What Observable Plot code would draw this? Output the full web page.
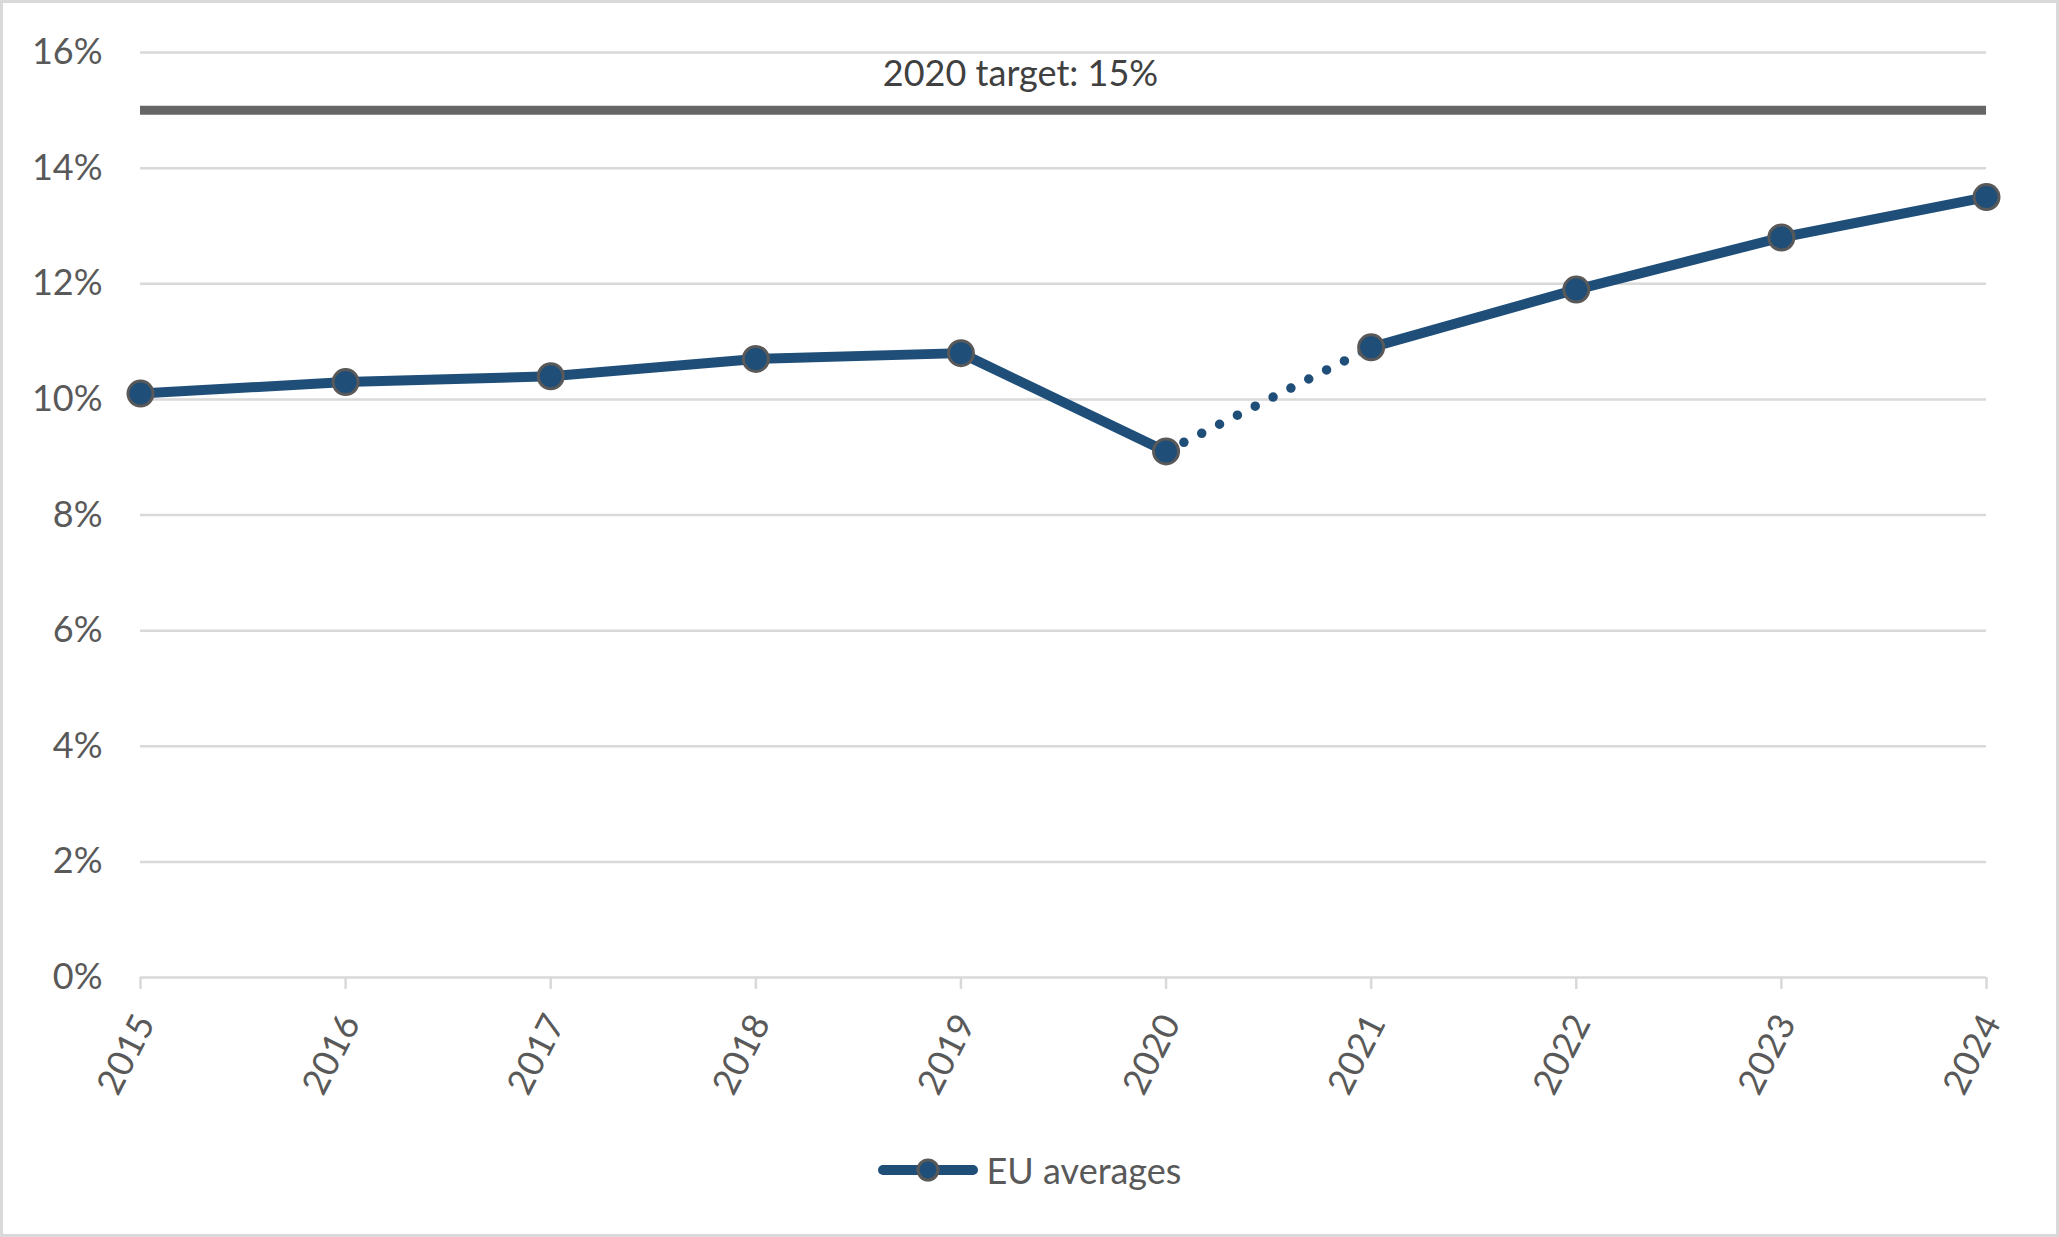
<!DOCTYPE html>
<html>
<head>
<meta charset="utf-8">
<script src="https://cdn.jsdelivr.net/npm/d3@7"></script>
<script src="https://cdn.jsdelivr.net/npm/@observablehq/plot@0.6"></script>
<style>
  html, body { margin: 0; padding: 0; background: #fff; overflow: hidden; }
  #wrap { position: relative; width: 2059px; height: 1237px; font-family: Lato, "Open Sans", sans-serif; }
  #border { position: absolute; left: 0; top: 0; width: 2059px; height: 1237px; box-sizing: border-box; border: 3px solid #d9d9d9; pointer-events: none; }
  #chart { position: absolute; left: 0; top: 0; }
  #legend { position: absolute; left: 0; top: 1150px; width: 2059px; height: 40px; display: flex; justify-content: center; align-items: center; gap: 9px; }
  #legend span { font-size: 36px; line-height: 40px; color: #595959; font-family: Lato, sans-serif; }
</style>
</head>
<body>
<div id="wrap">
  <div id="chart"></div>
  <div id="legend"></div>
  <div id="border"></div>
</div>
<script>
// ---- data ----
const years = [2015, 2016, 2017, 2018, 2019, 2020, 2021, 2022, 2023, 2024];
const euAverages = [10.1, 10.3, 10.4, 10.7, 10.8, 9.1, 10.9, 11.9, 12.8, 13.5];
const yTicks = [0, 2, 4, 6, 8, 10, 12, 14, 16];
const target = 15;
const targetLabel = "2020 target: 15%";
const seriesName = "EU averages";
const dottedFrom = 2020; // segment 2020 -> 2021 drawn dotted

// ---- styles ----
const blue = "#1F4E79";
const markerStroke = "#595959";
const grid = "#d9d9d9";
const textColor = "#595959";

const rows = years.map((year, i) => ({year, value: euAverages[i]}));
const firstPart = rows.filter(d => d.year <= dottedFrom);
const lastPart = rows.filter(d => d.year > dottedFrom);
const dottedPart = rows.filter(d => d.year === dottedFrom || d.year === dottedFrom + 1);

const chart = Plot.plot({
  width: 2059,
  height: 1110,
  marginLeft: 140,
  marginRight: 73,
  marginTop: 52,
  marginBottom: 133,
  style: {fontFamily: "Lato, sans-serif", background: "transparent"},
  x: {type: "linear", domain: [years[0], years[years.length - 1]], axis: null},
  y: {domain: [0, 16], axis: null},
  marks: [
    Plot.ruleY(yTicks, {stroke: grid, strokeWidth: 2.5}),
    Plot.axisX({ticks: years, tickSize: 12, tickFormat: () => "", stroke: grid, strokeWidth: 2.5, label: null}),
    Plot.text(years, {x: d => d, frameAnchor: "bottom", text: d => String(d), rotate: -63, textAnchor: "end", lineAnchor: "middle", dx: 5, dy: 40, fontSize: 36, fill: textColor}),
    Plot.text(yTicks, {y: d => d, frameAnchor: "left", text: d => d + "%", textAnchor: "end", lineAnchor: "middle", dx: -38, fontSize: 36, fill: textColor}),
    Plot.ruleY([target], {stroke: "#666666", strokeWidth: 9}),
    Plot.text([target], {y: d => d, text: () => targetLabel, textAnchor: "middle", lineAnchor: "middle", dx: -43, dy: -36, fontSize: 36, fill: "#404040"}),
    Plot.line(firstPart, {x: "year", y: "value", stroke: blue, strokeWidth: 10, strokeLinejoin: "round", strokeLinecap: "round"}),
    Plot.line(lastPart, {x: "year", y: "value", stroke: blue, strokeWidth: 10, strokeLinejoin: "round", strokeLinecap: "round"}),
    Plot.line(dottedPart, {x: "year", y: "value", stroke: blue, strokeWidth: 9.5, strokeLinecap: "round", strokeDasharray: "0 20"}),
    Plot.dot(rows, {x: "year", y: "value", r: 12.5, fill: blue, stroke: markerStroke, strokeWidth: 3})
  ]
});
document.getElementById("chart").appendChild(chart);

// ---- legend ----
const legend = document.getElementById("legend");
const sw = d3.create("svg").attr("width", 100).attr("height", 40);
sw.append("line").attr("x1", 5).attr("x2", 95).attr("y1", 20).attr("y2", 20)
  .attr("stroke", blue).attr("stroke-width", 10).attr("stroke-linecap", "round");
sw.append("circle").attr("cx", 50).attr("cy", 20).attr("r", 10)
  .attr("fill", blue).attr("stroke", markerStroke).attr("stroke-width", 3);
legend.appendChild(sw.node());
const lab = document.createElement("span");
lab.textContent = seriesName;
legend.appendChild(lab);
</script>
</body>
</html>
